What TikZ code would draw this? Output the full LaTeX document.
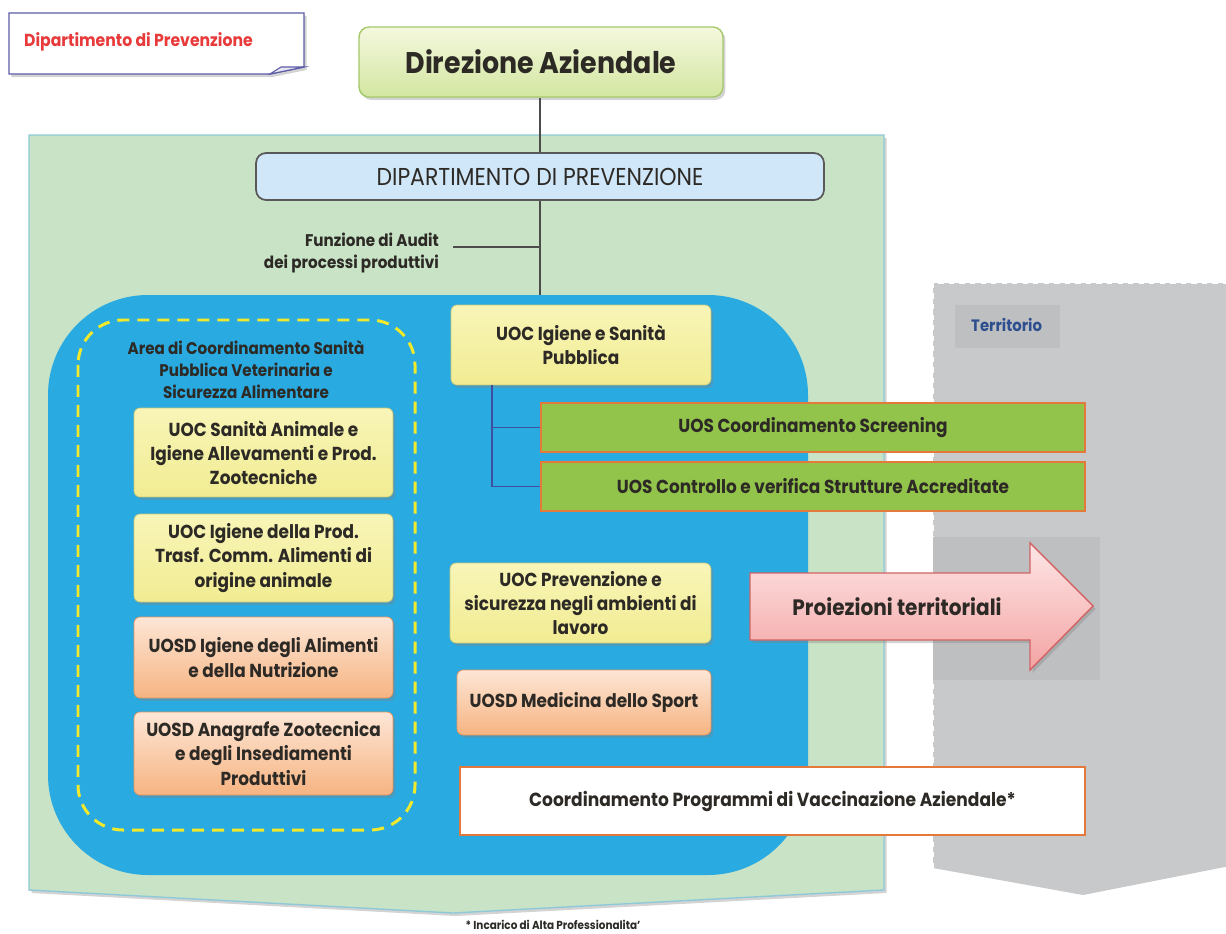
\documentclass[tikz,border=0pt]{standalone}
\usepackage{fontspec}
\setmainfont{Poppins}[FakeStretch=0.9]
\usetikzlibrary{shadows}
\definecolor{panelgreen}{HTML}{C8E3C6}
\definecolor{panelborder}{HTML}{8FC9D9}
\definecolor{bluearea}{HTML}{29ABE2}
\definecolor{dashyel}{HTML}{F2E92A}
\definecolor{yel1}{HTML}{F8F5B8}
\definecolor{yel2}{HTML}{F1EC92}
\definecolor{yelb}{HTML}{C9C777}
\definecolor{or1}{HTML}{FDE6D6}
\definecolor{or2}{HTML}{F6B482}
\definecolor{orb}{HTML}{E8925A}
\definecolor{grnbox}{HTML}{92C44C}
\definecolor{grnb}{HTML}{E3793A}
\definecolor{gray1}{HTML}{C8C9CB}
\definecolor{gray2}{HTML}{BEBFC1}
\definecolor{dipfill}{HTML}{CFE7F8}
\definecolor{txt}{HTML}{2D2A26}
\definecolor{terrtxt}{HTML}{2E4F8F}
\definecolor{redtxt}{HTML}{E83A3A}
\definecolor{noteb}{HTML}{5B5BA8}
\definecolor{dir1}{HTML}{F4F8DE}
\definecolor{dir2}{HTML}{D3E6A1}
\definecolor{dirb}{HTML}{A5C86A}
\definecolor{arr1}{HTML}{FDE6E6}
\definecolor{arr2}{HTML}{F4A3A3}
\definecolor{arrb}{HTML}{D06464}
\definecolor{conn}{HTML}{3F4F9F}
\tikzset{
  shad/.style={drop shadow={opacity=0.35, shadow xshift=0.05cm, shadow yshift=-0.06cm}},
  unit/.style={shad, rounded corners=0.12cm, align=center, inner sep=2pt,
    font=\bfseries\fontsize{10.7}{13.7}\selectfont, text=txt},
  ybox/.style={unit, top color=yel1, bottom color=yel2, draw=yelb},
  obox/.style={unit, top color=or1, bottom color=or2, draw=orb},
  gbox/.style={draw=grnb, fill=grnbox, line width=0.8pt, align=center,
    font=\bfseries\fontsize{10.7}{13.7}\selectfont, text=txt},
  lbl/.style={font=\bfseries\fontsize{9.6}{12.5}\selectfont, text=txt},
}
\begin{document}
\begin{tikzpicture}[x=0.02cm,y=-0.02cm]
\useasboundingbox (0,0) rectangle (1226,933);
% grey territory shape
\fill[gray1] (933,283) -- (1230,283) -- (1230,866) -- (1083,895) -- (933,868) -- cycle;
\draw[white, dashed, line width=0.8pt] (933,868) -- (933,283) -- (1230,283);
\fill[gray2] (933,537) rectangle (1100,680);
\fill[gray2] (955,305) rectangle (1060,348);
\node[anchor=west, font=\bfseries\fontsize{9.4}{11}\selectfont, text=terrtxt] (terr) at (965,325) {Territorio};
% green panel
\filldraw[fill=panelgreen, draw=panelborder, line width=0.8pt, shad]
  (29,135) -- (884,135) -- (884,890) -- (453,913) -- (29,890) -- cycle;
% blue area
\fill[bluearea, rounded corners=2cm] (48,295) rectangle (808,875);
% yellow dashed
\draw[dashyel, line width=1.7pt, dash pattern=on 0.24cm off 0.16cm, rounded corners=0.9cm]
  (78,320) rectangle (415,830);
% note
\filldraw[fill=white, draw=noteb, line width=0.8pt, shad]
  (9,13) -- (304,13) -- (304,67) -- (270,74) -- (9,74) -- cycle;
\filldraw[fill=noteb!15, draw=noteb, line width=0.6pt] (270,74) -- (281,67) -- (304,67) -- cycle;
\node[anchor=west, font=\bfseries\fontsize{9.9}{11}\selectfont, text=redtxt] (note) at (18,42) {Dipartimento di Prevenzione};
% Direzione
\node[shad, rounded corners=0.2cm, top color=dir1, bottom color=dir2, draw=dirb, line width=0.8pt,
  minimum width=7.28cm, minimum height=1.4cm, font=\bfseries\fontsize{17}{20}\selectfont, text=txt]
  (dir) at (541,62) {Direzione Aziendale};
% Dipartimento
\node[rounded corners=0.2cm, fill=dipfill, draw=black!65, line width=1pt,
  minimum width=11.36cm, minimum height=0.94cm, font=\fontsize{13.9}{16}\selectfont, text=txt]
  (dip) at (540,176.5) {DIPARTIMENTO DI PREVENZIONE};
\coordinate (bluetop) at (540,295);
\coordinate (audj) at (540,247);
\draw[black!70, line width=0.8pt] (dip.north) -- (dip.north |- dir.south);
\draw[black!70, line width=0.8pt] (dip.south) -- (bluetop);
\node[lbl, anchor=east, align=right] (audit) at (445,253) {Funzione di Audit\\dei processi produttivi};
\draw[black!70, line width=0.8pt] (453,247) -- (audj);
% Area label
\node[lbl, align=center] (area) at (246,370) {Area di Coordinamento Sanità\\Pubblica Veterinaria e\\Sicurezza Alimentare};
% left column
\node[ybox, minimum width=5.18cm, minimum height=1.78cm] (san) at (263.5,452.5) {UOC Sanità Animale e\\Igiene Allevamenti e Prod.\\Zootecniche};
\node[ybox, minimum width=5.18cm, minimum height=1.76cm] (igp) at (263.5,558) {UOC Igiene della Prod.\\Trasf. Comm. Alimenti di\\origine animale};
\node[obox, minimum width=5.18cm, minimum height=1.62cm] (ali) at (263.5,657.5) {UOSD Igiene degli Alimenti\\e della Nutrizione};
\node[obox, minimum width=5.18cm, minimum height=1.66cm] (ana) at (263.5,753.5) {UOSD Anagrafe Zootecnica\\e degli Insediamenti\\Produttivi};
% right column
\node[ybox, minimum width=5.2cm, minimum height=1.6cm] (isp) at (581,345) {UOC Igiene e Sanità\\Pubblica};
\node[gbox, minimum width=10.88cm, minimum height=0.98cm] (scr) at (813,427.5) {UOS Coordinamento Screening};
\node[gbox, minimum width=10.88cm, minimum height=0.98cm] (ctl) at (813,486.5) {UOS Controllo e verifica Strutture Accreditate};
\coordinate (ispj) at (492,385);
\draw[conn, line width=0.6pt] (ispj) |- (scr.west);
\draw[conn, line width=0.6pt] (ispj) |- (ctl.west);
\node[ybox, minimum width=5.22cm, minimum height=1.6cm] (prev) at (580.5,603) {UOC Prevenzione e\\sicurezza negli ambienti di\\lavoro};
\node[obox, minimum width=5.08cm, minimum height=1.3cm] (med) at (584,702.5) {UOSD Medicina dello Sport};
\node[draw=grnb, fill=white, line width=0.8pt, minimum width=12.5cm, minimum height=1.36cm,
  font=\bfseries\fontsize{10.8}{13.7}\selectfont, text=txt] (coord) at (772.5,801) {Coordinamento Programmi di Vaccinazione Aziendale*};
% arrow
\path[shad, top color=arr1, bottom color=arr2, draw=arrb, line width=0.8pt]
  (750,573) -- (1030,573) -- (1030,543) -- (1093,606) -- (1030,670) -- (1030,640) -- (750,640) -- cycle;
\node[font=\bfseries\fontsize{12.7}{15}\selectfont, text=txt] (proj) at (897,607) {Proiezioni territoriali};
% footnote
\node[font=\bfseries\fontsize{6.6}{7}\selectfont, text=txt, inner sep=1pt] (foot) at (553,925) {* Incarico di Alta Professionalita'};
\end{tikzpicture}
\end{document}
